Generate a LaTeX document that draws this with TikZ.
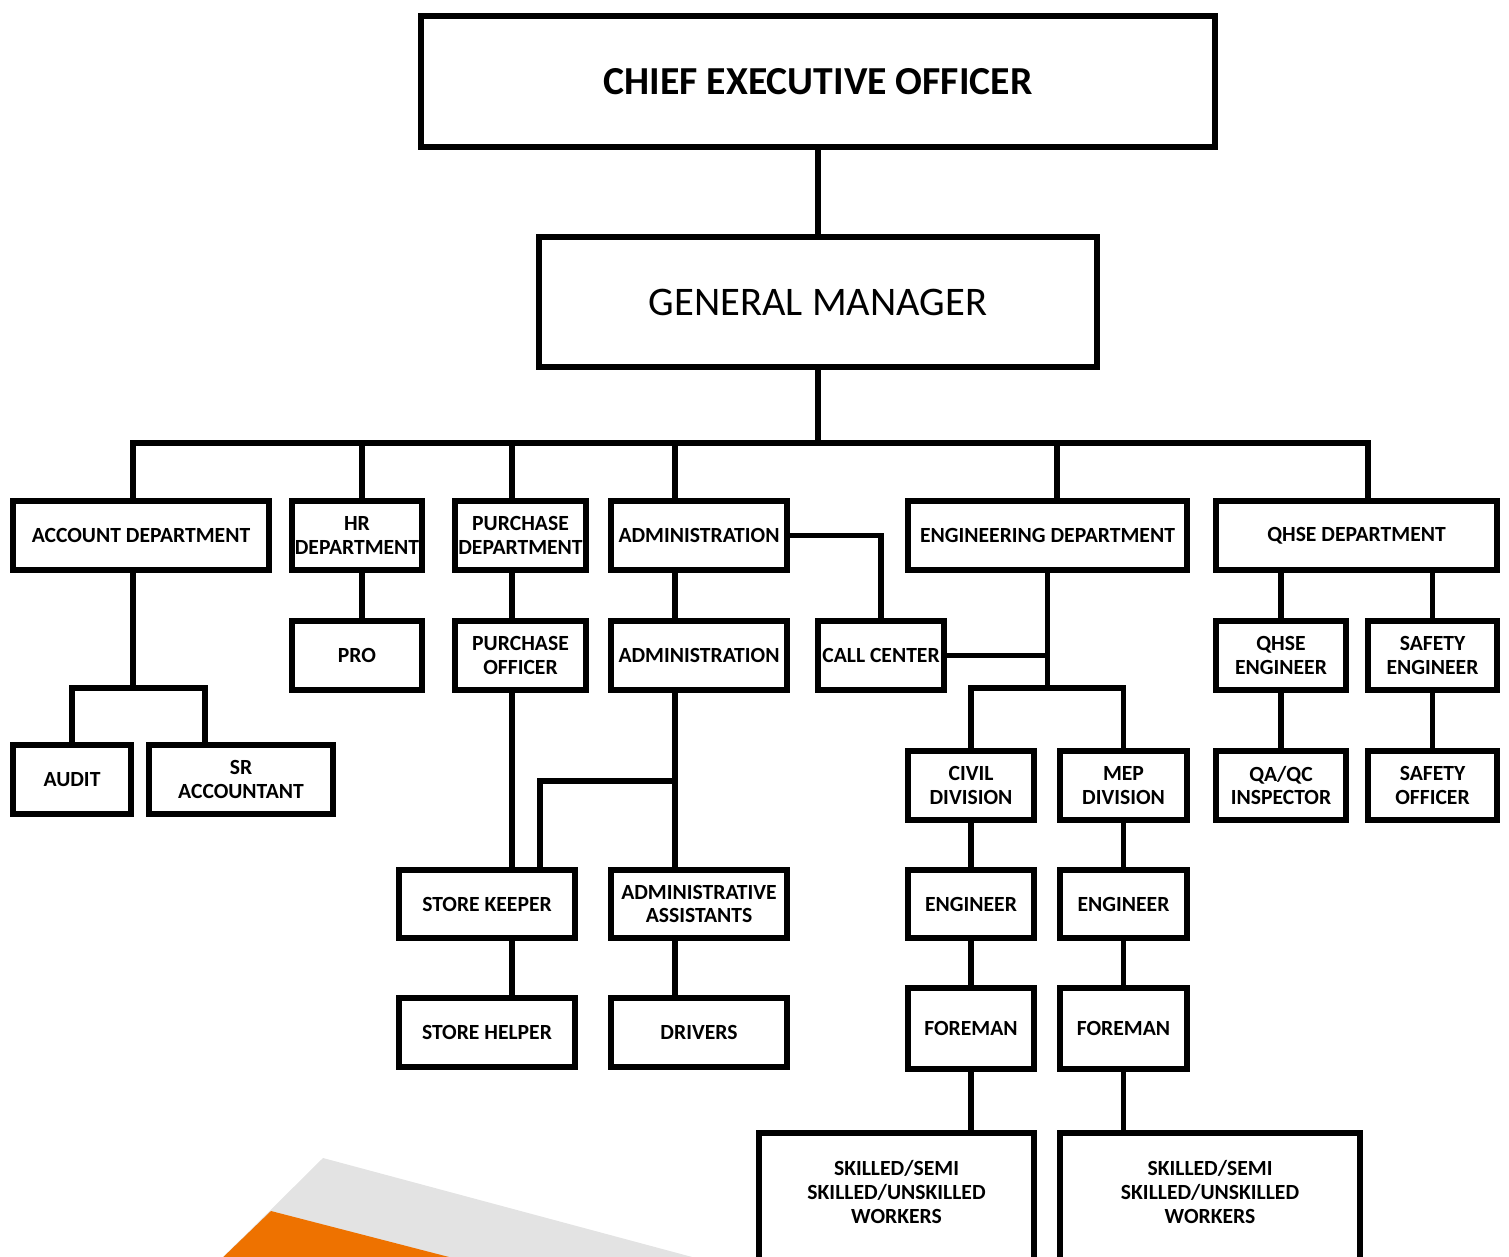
\documentclass[tikz,border=0pt]{standalone}
\usepackage{fontspec}
\setmainfont{Carlito}
\definecolor{bandgrey}{RGB}{227,227,227}
\definecolor{bandorange}{RGB}{238,114,0}

\begin{document}
\begin{tikzpicture}[
    x=0.2mm, y=-0.2mm,
    every node/.style={draw, rectangle, line width=3.2pt, align=center, inner xsep=1pt, inner ysep=2pt, font=\fontsize{12.3}{13.6}\selectfont\bfseries},
    row/.style={minimum height=1.38cm},
    workers/.style={anchor=north, inner ysep=0.55cm, text depth=1cm},
    line/.style={line width=3.2pt, line cap=rect}
]
\useasboundingbox (0,0) rectangle (1509,1256);

% Corner bands
\fill[bandgrey] (323,1158) -- (722,1265) -- (215,1265) -- cycle;
\fill[bandorange] (271,1211) -- (480,1265) -- (215,1265) -- cycle;

% Nodes
\node[minimum width=15.88cm, minimum height=2.62cm, font=\fontsize{22.6}{26}\selectfont\bfseries] (ceo) at (818,81.5) {CHIEF EXECUTIVE OFFICER};
\node[minimum width=11.16cm, minimum height=2.6cm, font=\fontsize{23.1}{26}\selectfont] (gm) at (818,302) {GENERAL MANAGER};

\node[row, minimum width=5.12cm] (acc) at (141,535.5) {ACCOUNT DEPARTMENT};
\node[row, minimum width=2.6cm] (hr) at (357,535.5) {HR\\DEPARTMENT};
\node[row, minimum width=2.62cm] (pur) at (520.5,535.5) {PURCHASE\\DEPARTMENT};
\node[row, minimum width=3.52cm] (adm) at (699,535.5) {ADMINISTRATION};
\node[row, minimum width=5.58cm] (eng) at (1047.5,535.5) {ENGINEERING DEPARTMENT};
\node[row, minimum width=5.62cm] (qhse) at (1356.5,535.5) {QHSE DEPARTMENT};

\node[row, minimum width=2.6cm] (pro) at (357,655.5) {PRO};
\node[row, minimum width=2.62cm] (puro) at (520.5,655.5) {PURCHASE\\OFFICER};
\node[row, minimum width=3.52cm] (adm2) at (699,655.5) {ADMINISTRATION};
\node[row, minimum width=2.52cm] (call) at (881,655.5) {CALL CENTER};
\node[row, minimum width=2.6cm] (qeng) at (1281,655.5) {QHSE\\ENGINEER};
\node[row, minimum width=2.58cm] (seng) at (1432.5,655.5) {SAFETY\\ENGINEER};

\node[row, minimum width=2.36cm] (audit) at (72,779.5) {AUDIT};
\node[row, minimum width=3.68cm] (sracc) at (241,779.5) {SR\\ACCOUNTANT};
\node[row, minimum width=2.52cm] (civ) at (971,785.5) {CIVIL\\DIVISION};
\node[row, minimum width=2.54cm] (mep) at (1123.5,785.5) {MEP\\DIVISION};
\node[row, minimum width=2.6cm] (qaqc) at (1281,785.5) {QA/QC\\INSPECTOR};
\node[row, minimum width=2.58cm] (sofc) at (1432.5,785.5) {SAFETY\\OFFICER};

\node[minimum height=1.36cm, minimum width=3.52cm] (store) at (487,904) {STORE KEEPER};
\node[minimum height=1.36cm, minimum width=3.52cm] (asst) at (699,904) {ADMINISTRATIVE\\ASSISTANTS};
\node[minimum height=1.36cm, minimum width=2.52cm] (engc) at (971,904) {ENGINEER};
\node[minimum height=1.36cm, minimum width=2.54cm] (engm) at (1123.5,904) {ENGINEER};

\node[row, minimum width=3.52cm] (helper) at (487,1032.5) {STORE HELPER};
\node[row, minimum width=3.52cm] (drv) at (699,1032.5) {DRIVERS};
\node[minimum height=1.62cm, minimum width=2.52cm] (forc) at (971,1028.5) {FOREMAN};
\node[minimum height=1.62cm, minimum width=2.54cm] (form) at (1123.5,1028.5) {FOREMAN};

\node[workers, minimum width=5.5cm] (wrkc) at (896.5,1130) {SKILLED/SEMI\\SKILLED/UNSKILLED\\WORKERS};
\node[workers, minimum width=6cm] (wrkm) at (1210,1130) {SKILLED/SEMI\\SKILLED/UNSKILLED\\WORKERS};

% Lines
\coordinate (b1) at (133,443);
\coordinate (b2) at (362,443);
\coordinate (b3) at (512,443);
\coordinate (b4) at (675,443);
\coordinate (b5) at (1057,443);
\coordinate (b6) at (1368,443);
\draw[line] (ceo) -- (gm);
\draw[line] (gm) -- (gm |- b1);
\draw[line] (b1) -- (b6);
\foreach \b/\n in {b1/acc, b2/hr, b3/pur, b4/adm, b5/eng, b6/qhse}
    \draw[line] (\b) -- (\n.north -| \b);

% account
\coordinate (accj) at (133,688);
\coordinate (srj) at (205,688);
\draw[line] (acc.south -| accj) -- (accj);
\draw[line] (audit.north) |- (srj) -- (sracc.north -| srj);

% hr, purchase, administration
\draw[line] (hr.south -| b2) -- (pro.north -| b2);
\draw[line] (pur.south -| b3) -- (puro.north -| b3);
\draw[line] (puro.south -| b3) -- (store.north -| b3);
\draw[line] (store.south -| b3) -- (helper.north -| b3);
\draw[line] (adm.south -| b4) -- (adm2.north -| b4);
\draw[line] (adm2.south -| b4) -- (asst.north -| b4);
\draw[line] (asst.south -| b4) -- (drv.north -| b4);
\coordinate (admj) at (675,781);
\coordinate (stj) at (540,781);
\draw[line] (admj) -- (stj) -- (store.north -| stj);

% call center and engineering
\draw[line] (adm.east) -| (call.north);
\coordinate (engj) at (1047.5,688);
\draw[line] (eng.south) -- (engj);
\draw[line] (call.east) -- (call.east -| engj);
\draw[line] (civ.north) |- (engj) -| (mep.north);
\foreach \a/\c in {civ/engc, engc/forc, mep/engm, engm/form, qeng/qaqc, seng/sofc}
    \draw[line] (\a) -- (\c);
\draw[line] (forc.south) -- (forc.south |- wrkc.north);
\draw[line] (form.south) -- (form.south |- wrkm.north);

% qhse
\draw[line] (qeng.north) -- (qeng.north |- qhse.south);
\draw[line] (seng.north) -- (seng.north |- qhse.south);

\end{tikzpicture}
\end{document}
